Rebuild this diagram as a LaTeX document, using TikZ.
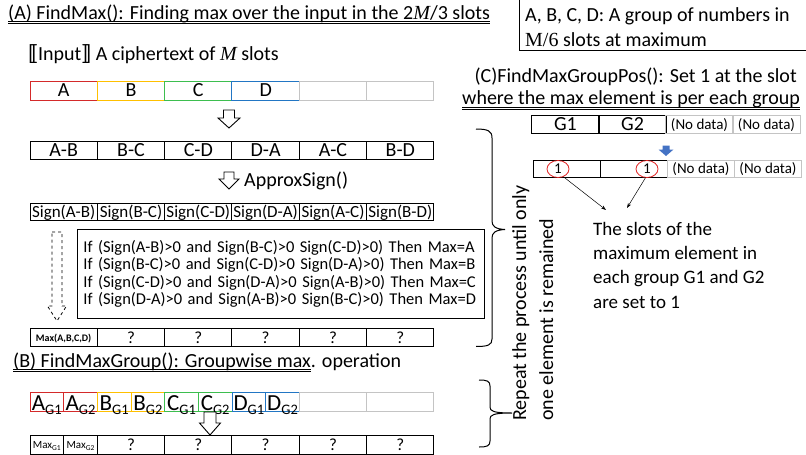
\documentclass[tikz,border=0pt]{standalone}
\usepackage{fontspec}
\setmainfont{Carlito}
\newfontfamily\serifM{Liberation Serif}
\usetikzlibrary{shapes.geometric,arrows.meta}
\newcommand\fs[1]{\fontsize{#1}{#1}\selectfont}
\newcommand\dul[1]{\setbox0=\hbox{#1}\rlap{\rule[-2.6pt]{\wd0}{0.6pt}}\rlap{\rule[-4.8pt]{\wd0}{0.6pt}}\box0}
\newcommand\lbb{[\kern-3.6pt[}
\newcommand\rbb{]\kern-3.6pt]}
\definecolor{cA}{HTML}{D42A2A}
\definecolor{cB}{HTML}{FFC000}
\definecolor{cC}{HTML}{3DBE4F}
\definecolor{cD}{HTML}{2276C4}
\definecolor{cG}{HTML}{C4C4C4}
\definecolor{cBlue}{HTML}{4472C4}
\definecolor{cRing}{HTML}{E02020}
% #1 options, #2 x, #3 top y, #4 shaft half width, #5 head half width, #6 shaft length, #7 head length
\newcommand\hollowarrow[7][]{%
  \draw[line width=0.9pt, fill=white, #1] ({#2-#4},#3) -- ({#2+#4},#3) -- ({#2+#4},{#3+#6})
    -- ({#2+#5},{#3+#6}) -- (#2,{#3+#6+#7}) -- ({#2-#5},{#3+#6}) -- ({#2-#4},{#3+#6}) -- cycle;}
\tikzset{
  cell/.style={draw, line width=1pt, inner sep=0pt, minimum width=67.33pt, minimum height=19pt, text depth=0pt},
  hcell/.style={cell, minimum width=33.67pt},
  txt/.style={inner sep=0pt, anchor=base west},
  conn/.style={line width=0.5pt, -{Stealth[length=5pt,width=3.5pt]}},
  brace/.style={line width=1pt},
}
\begin{document}
\begin{tikzpicture}[x=1pt,y=-1pt]
\useasboundingbox (0,0) rectangle (806,455);

% ---------------- legend box
\draw[line width=0.9pt] (519,-5) rectangle (812,50);
\node[txt] (leg1) at (525,21.5) {\fs{20}A, B, C, D: A group of numbers in};
\node[txt] (leg2) at (525,46.5) {\fs{20}{\serifM M/6} slots at maximum};

% ---------------- (A)
\node[txt] (tA) at (8,19.3) {\fs{20}\dul{(A) FindMax(): Finding max over the input in the 2{\serifM\itshape M}/3 slots}};
\node[txt] (inp) at (28,60) {\fs{20}{\fontsize{22}{22}\selectfont\lbb}Input{\fontsize{22}{22}\selectfont\rbb} A ciphertext of {\serifM\itshape M} slots};

\foreach \t/\c [count=\i] in {A/cA,B/cB,C/cC,D/cD,{}/cG,{}/cG}
  \node[cell, draw=\c, text height=12.9pt, font=\fs{20}] (ra\i) at ({30+67.33*(\i-0.5)},90.5) {\t};

\hollowarrow{229}{110}{5.5}{11}{8}{10}

\foreach \t [count=\i] in {A-B,B-C,C-D,D-A,A-C,B-D}
  \node[cell, text height=12.9pt, font=\fs{20}, minimum height=18pt] (rb\i) at ({30+67.33*(\i-0.5)},150.5) {\t};

\hollowarrow{229}{172}{5}{10}{7}{10}
\node[txt] (approx) at (244,186) {\fs{20}ApproxSign()};

\foreach \t [count=\i] in {Sign(A-B),Sign(B-C),Sign(C-D),Sign(D-A),Sign(A-C),Sign(B-D)}
  \node[cell, text height=11.5pt, font=\fs{17}, minimum height=17pt] (rc\i) at ({30+67.33*(\i-0.5)},211.5) {\t};

\hollowarrow[dashed, line width=0.8pt]{57}{232}{5}{9.5}{74}{15}

\node[draw, line width=0.9pt, anchor=north west, inner xsep=6pt, inner ysep=0pt, minimum height=89pt,
      text width=395pt, align=left, font={\fontsize{16.5}{17.2}\selectfont}] (ifbox) at (77,229)
  {If (Sign(A-B)>0 and Sign(B-C)>0 Sign(C-D)>0) Then Max=A\\
   If (Sign(B-C)>0 and Sign(C-D)>0 Sign(D-A)>0) Then Max=B\\
   If (Sign(C-D)>0 and Sign(D-A)>0 Sign(A-B)>0) Then Max=C\\
   If (Sign(D-A)>0 and Sign(A-B)>0 Sign(B-C)>0) Then Max=D};

\node[cell, text height=7pt, font=\fs{10}\bfseries, minimum height=18pt] (rd1) at ({30+67.33*0.5},337.5) {Max(A,B,C,D)};
\foreach \i in {2,...,6}
  \node[cell, text height=11.5pt, font=\fs{17}, minimum height=18pt] (rd\i) at ({30+67.33*(\i-0.5)},337.5) {?};

% ---------------- (B)
\node[txt] (tB) at (13,367) {\fs{20}\dul{(B) FindMaxGroup(): Groupwise max}. operation};

\foreach \l/\g/\c [count=\i] in {A/G1/cA,A/G2/cA,B/G1/cB,B/G2/cB,C/G1/cC,C/G2/cC,D/G1/cD,D/G2/cD}
  \node[hcell, draw=\c, text height=17pt] (sa\i) at ({30+33.67*(\i-0.5)},401.5)
    {{\fs{23}\l}{\fs{14.5}\raisebox{-4.5pt}{\g}}};
\node[cell, draw=cG] (sa9) at ({30+67.33*4.5},401.5) {};
\node[cell, draw=cG] (sa10) at ({30+67.33*5.5},401.5) {};

\hollowarrow{210}{412}{6}{10.5}{11}{12}

\node[hcell, text height=7.5pt] (sb1) at ({30+33.67*0.5},445) {{\fs{11}Max}{\fs{7.5}\raisebox{-2pt}{G1}}};
\node[hcell, text height=7.5pt] (sb2) at ({30+33.67*1.5},445) {{\fs{11}Max}{\fs{7.5}\raisebox{-2pt}{G2}}};
\foreach \i in {2,...,6}
  \node[cell, text height=11.5pt, font=\fs{17}] (sb\i x) at ({30+67.33*(\i-0.5)},445) {?};

% ---------------- braces and vertical text
\draw[brace] (476,129) .. controls (488,129) and (492,131) .. (492,138) -- (492,221)
  .. controls (492,226) and (495,229) .. (505,229.5) .. controls (495,230) and (492,233) .. (492,238)
  -- (492,339) .. controls (492,345) and (488,346.5) .. (476,346.5);
\draw[brace] (479,380) .. controls (487,380) and (490,381) .. (490,386) -- (490,407)
  .. controls (490,411) and (493,413) .. (512,413) .. controls (493,413) and (490,415) .. (490,419)
  -- (490,441) .. controls (490,446) and (487,447) .. (479,447);
\node[txt, rotate=90] (rep1) at (526,421) {\fs{20}Repeat the process until only};
\node[txt, rotate=90] (rep2) at (553,421) {\fs{20}one element is remained};

% ---------------- (C)
\node[inner sep=0pt, anchor=base east] (tC1) at (797,82) {\fs{20}(C)FindMaxGroupPos(): Set 1 at the slot};
\node[txt] (tC2) at (462,104.5) {\fs{20}\dul{where the max element is per each group}};

\node[cell, text height=12.9pt, font=\fs{20}, minimum height=18pt] (g1) at (565.5,124) {G1};
\node[cell, text height=12.9pt, font=\fs{20}, minimum height=18pt] (g2) at (632.5,124) {G2};
\node[cell, draw=cG, text height=10pt, font=\fs{15}, minimum height=18pt] (g3) at (699.5,124) {(No data)};
\node[cell, draw=cG, text height=10pt, font=\fs{15}, minimum height=18pt] (g4) at (766.5,124) {(No data)};

\hollowarrow[draw=none, fill=cBlue]{666}{145.5}{3.5}{7.5}{4}{6.5}

\node[cell, minimum height=17pt] (h1) at (567,168.5) {};
\node[cell, minimum height=17pt] (h2) at (634,168.5) {};
\node[cell, draw=cG, text height=10pt, font=\fs{15}, minimum height=17pt] (h3) at (701,168.5) {(No data)};
\node[cell, draw=cG, text height=10pt, font=\fs{15}, minimum height=17pt] (h4) at (768,168.5) {(No data)};
\node[ellipse, draw=cRing, line width=0.8pt, inner sep=0pt, minimum width=22pt, minimum height=17pt, font=\fs{15}] (e1) at (558,169) {1};
\node[ellipse, draw=cRing, line width=0.8pt, inner sep=0pt, minimum width=22pt, minimum height=17pt, font=\fs{15}] (e2) at (647,169) {1};

\coordinate (t1) at (606,210);
\coordinate (t2) at (627,208);
\draw[conn] (e1.-55) -- (t1);
\draw[conn] (e2.-100) -- (t2);

\node[txt] (s1) at (593,235) {\fs{19}The slots of the};
\node[txt] (s2) at (593,259) {\fs{19}maximum element in};
\node[txt] (s3) at (593,283.5) {\fs{19}each group G1 and G2};
\node[txt] (s4) at (593,308) {\fs{19}are set to 1};
\end{tikzpicture}
\end{document}
